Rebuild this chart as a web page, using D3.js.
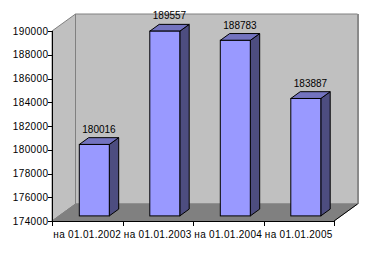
<!DOCTYPE html>
<html>
<head>
<meta charset="utf-8">
<script src="https://cdn.jsdelivr.net/npm/d3@7"></script>
<style>
	body { margin: 0; background: #fff; }
	svg text { font-family: "Liberation Sans", Arial, sans-serif; font-size: 10px; fill: #000; }
</style>
</head>
<body>
<svg id="chart" width="372" height="256"></svg>
<script>
const categories = ['на 01.01.2002', 'на 01.01.2003', 'на 01.01.2004', 'на 01.01.2005']
const values = [180016, 189557, 188783, 183887]
const yTicks = [174000, 176000, 178000, 180000, 182000, 184000, 186000, 188000, 190000]

const svg = d3.select('#chart')

// front plane of the plot, and how far the 3d depth reaches
const x = d3.scaleBand().domain(categories).range([52, 334])
const y = d3.scaleLinear().domain([174000, 190000]).range([221, 31])
const dx = d3.scaleLinear().domain([0, 1]).range([0, 23.5])
const dy = d3.scaleLinear().domain([0, 1]).range([0, -17])

const poly = pts => pts.map(p => p.join(',')).join(' ')
const y0 = y(174000), y1 = y(190000)
const xl = x.range()[0], xr = x.range()[1]

const walls = svg.append('g')
// left side wall
walls.append('polygon')
	.attr('points', poly([[xl, y0], [xl, y1], [xl + dx(1), y1 + dy(1)], [xl + dx(1), y0 + dy(1)]]))
	.attr('fill', '#c0c0c0')
	.attr('stroke', '#808080')
// back wall
walls.append('polygon')
	.attr('points', poly([[xl + dx(1), y1 + dy(1)], [xr + dx(1), y1 + dy(1)], [xr + dx(1), y0 + dy(1)], [xl + dx(1), y0 + dy(1)]]))
	.attr('fill', '#c0c0c0')
	.attr('stroke', '#808080')
walls.append('line')
	.attr('x1', xr + dx(1) + 0.5).attr('x2', xr + dx(1) + 0.5)
	.attr('y1', y1 + dy(1)).attr('y2', y0 + dy(1))
	.attr('stroke', '#8a8a8a').attr('stroke-width', 2)
// floor
walls.append('polygon')
	.attr('points', poly([[xl, y0], [xr, y0], [xr + dx(1), y0 + dy(1)], [xl + dx(1), y0 + dy(1)]]))
	.attr('fill', '#808080')
	.attr('stroke', '#808080')
walls.append('line')
	.attr('x1', xr).attr('y1', y0)
	.attr('x2', xr + dx(1)).attr('y2', y0 + dy(1))
	.attr('stroke', '#000')

// bars
const bw = 30
const f0 = 0.3, f1 = 0.7
const bars = svg.append('g')
	.selectAll('g')
	.data(categories.map((c, i) => ({ c, v: values[i] })))
	.join('g')
bars.each(function (d) {
	const g = d3.select(this)
	const bx = x(d.c) + (x.bandwidth() - bw) / 2 + dx(f0)
	const top = y(d.v) + dy(f0)
	const bot = y0 + dy(f0)
	const ox = dx(f1 - f0), oy = dy(f1 - f0)
	g.append('polygon')
		.attr('points', poly([[bx + bw, bot], [bx + bw, top], [bx + bw + ox, top + oy], [bx + bw + ox, bot + oy]]))
		.attr('fill', '#4d4d80').attr('stroke', '#000')
	g.append('polygon')
		.attr('points', poly([[bx, top], [bx + bw, top], [bx + bw + ox, top + oy], [bx + ox, top + oy]]))
		.attr('fill', '#7373bf').attr('stroke', '#000')
	g.append('rect')
		.attr('x', bx).attr('y', top)
		.attr('width', bw).attr('height', bot - top)
		.attr('fill', '#9999ff').attr('stroke', '#000')
	g.append('text')
		.attr('x', bx + (bw + ox) / 2)
		.attr('y', top + oy - 5)
		.attr('text-anchor', 'middle')
		.text(d.v)
})

// axes
svg.append('line')
	.attr('x1', xl + 0.5).attr('x2', xl + 0.5)
	.attr('y1', y1).attr('y2', y0 + 0.5)
	.attr('stroke', '#000')
svg.append('line')
	.attr('x1', xl).attr('x2', xr)
	.attr('y1', y0 + 0.5).attr('y2', y0 + 0.5)
	.attr('stroke', '#000')

const yAxis = svg.append('g')
yAxis.selectAll('line')
	.data(yTicks)
	.join('line')
	.attr('x1', xl - 4).attr('x2', xl)
	.attr('y1', d => Math.round(y(d)) + 0.5).attr('y2', d => Math.round(y(d)) + 0.5)
	.attr('stroke', '#000')
yAxis.selectAll('text')
	.data(yTicks)
	.join('text')
	.attr('x', xl - 3.5)
	.attr('y', d => y(d) + 3.5)
	.attr('text-anchor', 'end')
	.style('letter-spacing', '0.4px')
	.text(d => d)

const xAxis = svg.append('g')
xAxis.selectAll('line')
	.data(categories.concat([null]))
	.join('line')
	.attr('x1', d => Math.round(d ? x(d) : xr) + 0.5)
	.attr('x2', d => Math.round(d ? x(d) : xr) + 0.5)
	.attr('y1', y0).attr('y2', y0 + 5)
	.attr('stroke', '#000')
xAxis.selectAll('text')
	.data(categories)
	.join('text')
	.attr('x', d => x(d) + x.bandwidth() / 2)
	.attr('y', 238)
	.attr('text-anchor', 'middle')
	.style('letter-spacing', '0.3px')
	.text(d => d)
</script>
</body>
</html>
